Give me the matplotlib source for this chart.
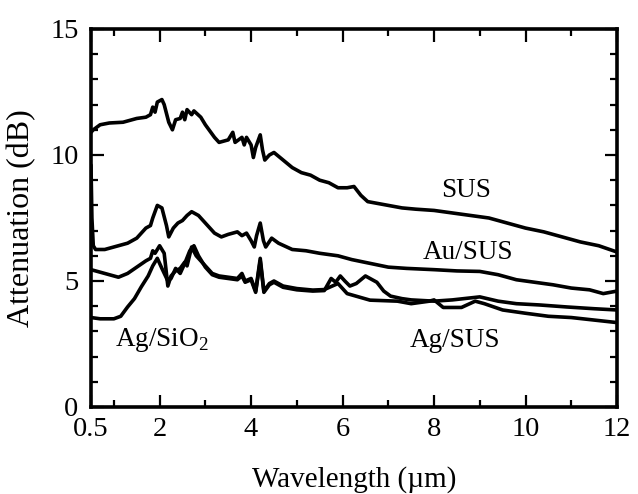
import matplotlib
matplotlib.use("Agg")
import matplotlib.pyplot as plt
from matplotlib.ticker import MultipleLocator, FixedLocator

plt.rcParams['font.family'] = ['Liberation Serif', 'DejaVu Serif']
plt.rcParams['mathtext.fontset'] = 'custom'
plt.rcParams['mathtext.rm'] = 'Liberation Serif'

# --- data ---
sus_x = [0.5, 0.55, 0.7, 0.9, 1.2, 1.5, 1.7, 1.8, 1.85, 1.9, 1.95, 2.05, 2.1, 2.2, 2.28, 2.35,
         2.45, 2.5, 2.55, 2.6, 2.7, 2.75, 2.9, 3.0, 3.2, 3.3, 3.5, 3.6, 3.65, 3.8, 3.85, 3.9,
         4.0, 4.05, 4.1, 4.2, 4.25, 4.3, 4.4, 4.5, 4.7, 4.9, 5.1, 5.3, 5.5, 5.7, 5.9, 6.1,
         6.25, 6.4, 6.55, 6.7, 7.0, 7.3, 7.6, 8.0, 8.4, 8.8, 9.2, 9.6, 10.0, 10.4, 10.8,
         11.2, 11.6, 12.0]
sus_y = [10.9, 11.0, 11.2, 11.27, 11.3, 11.45, 11.5, 11.6, 11.9, 11.7, 12.1, 12.2, 12.0, 11.3,
         11.0, 11.4, 11.45, 11.7, 11.4, 11.8, 11.6, 11.75, 11.5, 11.2, 10.7, 10.5, 10.6, 10.9,
         10.5, 10.7, 10.4, 10.7, 10.4, 9.9, 10.3, 10.8, 10.2, 9.8, 10.0, 10.1, 9.8, 9.5, 9.3,
         9.2, 9.0, 8.9, 8.7, 8.7, 8.75, 8.4, 8.15, 8.1, 8.0, 7.9, 7.85, 7.8, 7.7, 7.6, 7.5,
         7.3, 7.1, 6.95, 6.75, 6.55, 6.4, 6.15]

au_x = [0.5, 0.52, 0.55, 0.6, 0.8, 1.0, 1.3, 1.5, 1.7, 1.8, 1.85, 1.95, 2.05, 2.15, 2.2, 2.3,
        2.4, 2.5, 2.6, 2.7, 2.85, 3.0, 3.2, 3.35, 3.5, 3.7, 3.8, 3.9, 4.0, 4.07, 4.12, 4.2,
        4.27, 4.32, 4.45, 4.6, 4.9, 5.2, 5.5, 5.9, 6.2, 6.6, 7.0, 7.4, 8.0, 8.5, 9.0, 9.4,
        9.8, 10.2, 10.6, 11.0, 11.4, 11.7, 12.0]
au_y = [9.6, 7.5, 6.4, 6.25, 6.25, 6.35, 6.5, 6.7, 7.1, 7.2, 7.5, 8.0, 7.9, 7.2, 6.75, 7.1,
        7.3, 7.4, 7.6, 7.75, 7.6, 7.3, 6.9, 6.75, 6.85, 6.95, 6.8, 6.9, 6.6, 6.35, 6.8, 7.3,
        6.6, 6.35, 6.7, 6.5, 6.25, 6.2, 6.1, 6.0, 5.85, 5.7, 5.55, 5.5, 5.45, 5.4, 5.38, 5.25,
        5.05, 4.95, 4.85, 4.72, 4.65, 4.5, 4.6]

agsus_x = [0.5, 0.8, 1.1, 1.3, 1.5, 1.7, 1.8, 1.85, 1.9, 2.0, 2.1, 2.18, 2.25, 2.35, 2.45,
           2.55, 2.6, 2.7, 2.8, 2.9, 3.0, 3.15, 3.3, 3.5, 3.7, 3.8, 3.87, 4.0, 4.1, 4.2, 4.28,
           4.4, 4.5, 4.7, 5.0, 5.35, 5.6, 5.9, 6.1, 6.6, 7.2, 7.5, 7.9, 8.0, 8.2, 8.6, 8.9,
           9.1, 9.5, 10.0, 10.5, 11.0, 11.5, 12.0]
agsus_y = [5.45, 5.3, 5.15, 5.3, 5.55, 5.8, 5.9, 6.2, 6.1, 6.4, 6.1, 4.8, 5.2, 5.4, 5.5,
           5.75, 5.6, 6.35, 6.0, 5.8, 5.6, 5.3, 5.2, 5.15, 5.1, 5.3, 5.0, 5.1, 4.6, 5.9, 4.6,
           4.9, 5.0, 4.8, 4.7, 4.64, 4.66, 4.9, 4.5, 4.24, 4.2, 4.1, 4.2, 4.25, 3.95, 3.95, 4.2,
           4.1, 3.85, 3.72, 3.6, 3.55, 3.45, 3.35]

agsio_x = [0.5, 0.7, 1.0, 1.15, 1.3, 1.45, 1.6, 1.75, 1.85, 1.95, 2.05, 2.18, 2.25, 2.35, 2.45,
           2.55, 2.66, 2.75, 2.85, 3.0, 3.15, 3.3, 3.5, 3.7, 3.8, 3.87, 4.0, 4.1, 4.2, 4.28,
           4.4, 4.5, 4.7, 5.0, 5.35, 5.6, 5.75, 5.85, 5.95, 6.05, 6.16, 6.3, 6.5, 6.6, 6.75,
           6.9, 7.05, 7.3, 7.5, 8.0, 8.4, 9.0, 9.4, 9.8, 10.3, 10.9, 11.5, 12.0]
agsio_y = [3.55, 3.5, 3.5, 3.6, 3.97, 4.3, 4.77, 5.2, 5.6, 5.9, 5.5, 5.0, 5.1, 5.5, 5.3,
           5.7, 6.2, 6.4, 6.0, 5.55, 5.25, 5.15, 5.1, 5.05, 5.2, 4.95, 5.05, 4.55, 5.8, 4.55,
           4.85, 4.95, 4.75, 4.65, 4.6, 4.62, 5.1, 4.95, 5.2, 5.0, 4.8, 4.9, 5.2, 5.1, 4.95,
           4.6, 4.4, 4.3, 4.25, 4.2, 4.25, 4.37, 4.2, 4.1, 4.05, 3.97, 3.9, 3.85]

series = [("SUS", sus_x, sus_y), ("Au/SUS", au_x, au_y),
          ("Ag/SUS", agsus_x, agsus_y), ("Ag/SiO$_2$", agsio_x, agsio_y)]

labels = ["SUS", "Au/SUS", "Ag/SUS", "Ag/SiO$_2$"]
label_x = [8.7, 8.75, 8.45, 2.05]
label_y = [8.6, 6.15, 2.65, 2.65]

x_major = [0.5, 2, 4, 6, 8, 10, 12]
x_major_labels = ["0.5", "2", "4", "6", "8", "10", "12"]
x_minor = [1, 3, 5, 7, 9, 11]

fig = plt.figure(figsize=(6.38, 4.94), dpi=100)
ax = fig.add_axes([91/638, 1-407/494, (617-91)/638, (407-29)/494])

for name, xs, ys in series:
    ax.plot(xs, ys, color='black', lw=2.6, solid_joinstyle='round', solid_capstyle='round')

for t, lx, ly in zip(labels, label_x, label_y):
    ax.text(lx, ly, t, ha='center', va='center', fontsize=19.5)

ax.set_xlim(0.5, 12)
ax.set_ylim(0, 15)
ax.xaxis.set_major_locator(FixedLocator(x_major))
ax.set_xticklabels(x_major_labels)
ax.xaxis.set_minor_locator(FixedLocator(x_minor))
ax.yaxis.set_major_locator(MultipleLocator(5))
ax.yaxis.set_minor_locator(MultipleLocator(1))
ax.tick_params(which='both', direction='in', top=True, right=True, width=1.6, labelsize=20.5)
ax.tick_params(which='major', length=9)
ax.tick_params(axis='x', which='major', pad=7)
ax.tick_params(axis='y', which='major', pad=9)
ax.tick_params(which='minor', length=5)
for s in ax.spines.values():
    s.set_linewidth(2.6)

ax.set_xlabel("Wavelength (µm)", fontsize=21)
ax.set_ylabel("Attenuation (dB)", fontsize=23)
ax.xaxis.set_label_coords(0.5, -0.155)
ax.yaxis.set_label_coords(-0.105, 0.5)

fig.savefig("out.png", dpi=100)
